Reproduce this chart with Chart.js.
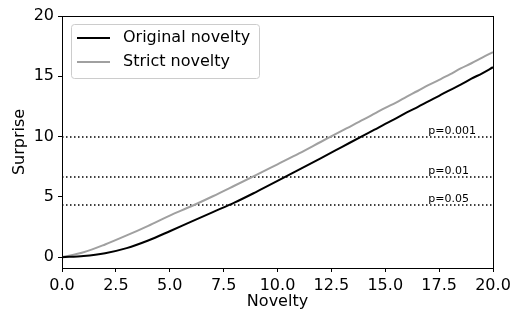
<!DOCTYPE html>
<html>
<head>
<meta charset="utf-8">
<script src="https://cdn.jsdelivr.net/npm/chart.js@4/dist/chart.umd.min.js"></script>
<style>
    body { margin: 0; background: #fff; }
    canvas { display: block; }
</style>
</head>
<body>
<canvas id="c" width="523" height="322"></canvas>
<script>
// novelty values (x) shared by both curves
const novelty = [0, 1, 2, 3, 4, 5, 6, 7, 8, 9, 10, 11, 12, 13, 14,
    14.5, 15, 15.5, 16, 16.5, 17, 17.5, 18, 18.5, 19, 19.5, 20];
const originalSurprise = [0, 0.1, 0.33, 0.75, 1.38, 2.15, 2.95, 3.74, 4.52, 5.4, 6.32, 7.26, 8.2, 9.15, 10.1,
    10.57, 11.05, 11.5, 12.0, 12.45, 12.92, 13.38, 13.86, 14.3, 14.8, 15.25, 15.75];
const strictSurprise = [0, 0.4, 1.05, 1.8, 2.6, 3.45, 4.22, 5.05, 5.92, 6.8, 7.7, 8.6, 9.55, 10.5, 11.42,
    11.9, 12.38, 12.82, 13.32, 13.78, 14.27, 14.7, 15.15, 15.65, 16.08, 16.55, 17.0];

// significance thresholds (surprise in bits)
const pLabels = ['p=0.001', 'p=0.01', 'p=0.05'];
const pLevels = [9.97, 6.64, 4.32];
const pLabelX = 17.0;

const xTicks = [0, 2.5, 5, 7.5, 10, 12.5, 15, 17.5, 20];
const yTicks = [0, 5, 10, 15, 20];

const FONT = 'DejaVu Sans';

const toPoints = (xs, ys) => xs.map((x, i) => ({ x, y: ys[i] }));

const datasets = [
    { label: 'Original novelty', data: toPoints(novelty, originalSurprise), borderColor: '#000000', borderWidth: 2, pointRadius: 0, cubicInterpolationMode: 'monotone' },
    { label: 'Strict novelty', data: toPoints(novelty, strictSurprise), borderColor: '#a0a0a0', borderWidth: 2, pointRadius: 0, cubicInterpolationMode: 'monotone' }
];
pLevels.forEach((lvl, i) => {
    datasets.push({
        label: pLabels[i],
        data: [{ x: 0, y: lvl }, { x: 20, y: lvl }],
        borderColor: '#000', borderWidth: 1.5, borderDash: [1.5, 2.5], pointRadius: 0
    });
});

const extras = {
    id: 'extras',
    afterDatasetsDraw(chart) {
        const { ctx, chartArea: a, scales } = chart;
        ctx.save();
        // top/right spines
        ctx.strokeStyle = '#000';
        ctx.lineWidth = 1;
        ctx.strokeRect(a.left + 0.5, a.top + 0.5, a.right - a.left, a.bottom - a.top);

        // threshold labels
        ctx.fillStyle = '#000';
        ctx.font = '11px ' + FONT;
        ctx.textAlign = 'left';
        ctx.textBaseline = 'alphabetic';
        pLevels.forEach((lvl, i) => {
            ctx.fillText(pLabels[i], scales.x.getPixelForValue(pLabelX), scales.y.getPixelForValue(lvl) - 3);
        });

        // legend
        const bx = 71, by = 24, bw = 188, bh = 54;
        ctx.beginPath();
        ctx.roundRect(bx + 0.5, by + 0.5, bw, bh, 3);
        ctx.fillStyle = 'rgba(255,255,255,0.85)';
        ctx.fill();
        ctx.strokeStyle = '#cccccc';
        ctx.stroke();
        ctx.font = '16px ' + FONT;
        ctx.textBaseline = 'middle';
        [datasets[0], datasets[1]].forEach((ds, i) => {
            const y = 38 + i * 24;
            ctx.beginPath();
            ctx.moveTo(77, y);
            ctx.lineTo(110, y);
            ctx.strokeStyle = ds.borderColor;
            ctx.lineWidth = 2;
            ctx.stroke();
            ctx.fillStyle = '#000';
            ctx.fillText(ds.label, 123, y);
        });

        // axis titles
        ctx.font = '16px ' + FONT;
        ctx.textAlign = 'center';
        ctx.textBaseline = 'middle';
        ctx.fillText('Novelty', (a.left + a.right) / 2, 302);
        ctx.translate(20, (a.top + a.bottom) / 2);
        ctx.rotate(-Math.PI / 2);
        ctx.fillText('Surprise', 0, 0);
        ctx.restore();
    }
};

new Chart(document.getElementById('c'), {
    type: 'line',
    data: { datasets },
    options: {
        responsive: false,
        animation: false,
        layout: { padding: { top: 16, right: 30, left: 0, bottom: 0 } },
        plugins: { legend: { display: false }, tooltip: { enabled: false } },
        scales: {
            x: {
                type: 'linear', min: 0, max: 20,
                afterBuildTicks: s => { s.ticks = xTicks.map(v => ({ value: v })); },
                afterFit: s => { s.height = 54; },
                grid: { drawOnChartArea: false, drawTicks: true, tickLength: 4, color: '#000' },
                border: { display: true, color: '#000', width: 1 },
                ticks: { color: '#000', font: { family: FONT, size: 16 }, padding: 4, maxRotation: 0, callback: v => v.toFixed(1) }
            },
            y: {
                type: 'linear', min: -0.9, max: 20,
                afterBuildTicks: s => { s.ticks = yTicks.map(v => ({ value: v })); },
                afterFit: s => { s.width = 62; },
                grid: { drawOnChartArea: false, drawTicks: true, tickLength: 4, color: '#000' },
                border: { display: true, color: '#000', width: 1 },
                ticks: { color: '#000', font: { family: FONT, size: 16 }, padding: 4, callback: v => String(v) }
            }
        }
    },
    plugins: [extras]
});
</script>
</body>
</html>
